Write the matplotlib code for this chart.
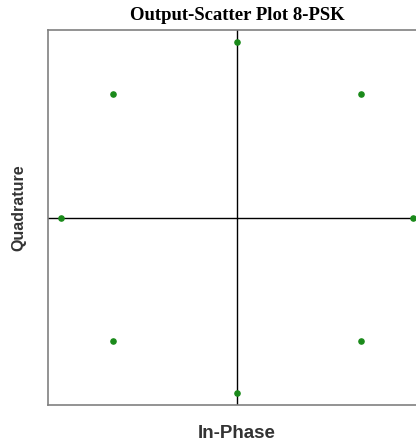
import numpy as np
import matplotlib
matplotlib.use("Agg")
import matplotlib.pyplot as plt

# 8-PSK 星座点（单位圆上）
in_phase = [1.0, 0.7071, 0.0, -0.7071, -1.0, -0.7071, 0.0, 0.7071]
quadrature = [0.0, 0.7071, 1.0, 0.7071, 0.0, -0.7071, -1.0, -0.7071]

W, H = 416, 446
fig = plt.figure(figsize=(W / 100, H / 100), dpi=100)
ax = fig.add_axes([48 / W, 41 / H, 378 / W, 375 / H])

# 坐标轴十字线
ax.axhline(0, color='black', linewidth=1, zorder=1)
ax.axvline(0, color='black', linewidth=1, zorder=1)

# 散点
ax.scatter(in_phase, quadrature, s=14, color='#1a8a1a', zorder=3, clip_on=False)

ax.set_xlim(-1.074, 1.074)
ax.set_ylim(-1.071, 1.071)
ax.set_xticks([])
ax.set_yticks([])
for side in ['left', 'top', 'bottom']:
    ax.spines[side].set_color('#808080')
    ax.spines[side].set_linewidth(1.2)
ax.spines['right'].set_visible(False)

# 标题和坐标轴名称
fig.text(237 / W, 1 - 16 / H, 'Output-Scatter Plot 8-PSK', family='Liberation Serif',
         fontweight='bold', fontsize=13.5, ha='center', va='center')
fig.text(237 / W, 1 - 434 / H, 'In-Phase', family='Liberation Sans',
         fontweight='bold', fontsize=13.5, color='#333333', ha='center', va='center')
fig.text(19 / W, 1 - 208 / H, 'Quadrature', family='Liberation Sans', rotation=90,
         fontweight='bold', fontsize=11.5, color='#333333', ha='center', va='center')

fig.savefig('out.png', dpi=100)
